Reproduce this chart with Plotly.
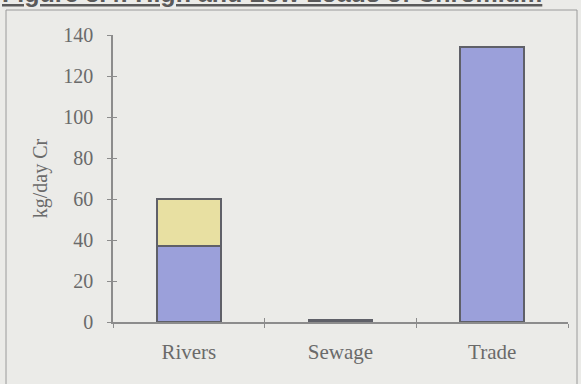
import plotly.graph_objects as go

# Chromium loads by source (kg/day Cr)
sources = ["Rivers", "Sewage", "Trade"]
high_loads = [37, 1, 134]      # lower (blue) segment
extra_loads = [23, 0, 0]       # upper (yellow) segment on top
y_ticks = [0, 20, 40, 60, 80, 100, 120, 140]

BG = "#ebebe8"
TXT = "#6a6a6a"
AXIS = "#8c8c8c"
EDGE = "#5f6068"
SERIF = "Liberation Serif, Times New Roman, serif"

fig = go.Figure()
fig.add_trace(go.Bar(
    x=sources, y=high_loads, name="Low",
    marker=dict(color="#9ba0da", line=dict(color=EDGE, width=2)),
    width=0.42,
))
fig.add_trace(go.Bar(
    x=sources, y=extra_loads, name="High",
    marker=dict(color="#e8e0a2", line=dict(color=EDGE, width=2)),
    width=0.42,
))

# invisible trace on overlay axes to get ticks crossing both sides of the axis lines
fig.add_trace(go.Bar(x=sources, y=[0, 0, 0], xaxis="x2", yaxis="y2",
                     showlegend=False, hoverinfo="skip",
                     marker=dict(color="rgba(0,0,0,0)")))

fig.update_layout(
    width=581, height=384, autosize=False,
    barmode="stack",
    showlegend=False,
    paper_bgcolor=BG, plot_bgcolor=BG,
    margin=dict(l=113, r=13, t=35, b=62),
    font=dict(family=SERIF, color=TXT, size=16),
    xaxis=dict(
        type="category", tickson="boundaries",
        ticks="outside", ticklen=4, tickcolor=AXIS,
        showline=True, linecolor=AXIS, linewidth=1.5,
        showgrid=False, zeroline=False,
        tickfont=dict(family=SERIF, size=21, color=TXT),
        ticklabelstandoff=10,
    ),
    yaxis=dict(
        range=[0, 140], tickvals=y_ticks,
        ticks="outside", ticklen=4, tickcolor=AXIS,
        showline=True, linecolor=AXIS, linewidth=1.5,
        showgrid=False, zeroline=False,
        tickfont=dict(family=SERIF, size=20, color=TXT),
        ticklabelstandoff=10,
        title=dict(text="kg/day Cr", font=dict(family=SERIF, size=20, color=TXT),
                   standoff=10),
    ),
    xaxis2=dict(
        type="category", overlaying="x", tickson="boundaries",
        ticks="inside", ticklen=4, tickcolor=AXIS,
        showticklabels=False, showgrid=False, zeroline=False, showline=False,
        matches="x",
    ),
    yaxis2=dict(
        overlaying="y", range=[0, 140], tickvals=y_ticks,
        ticks="inside", ticklen=4, tickcolor=AXIS,
        showticklabels=False, showgrid=False, zeroline=False, showline=False,
    ),
)

# outer frame around the chart
fig.add_shape(type="rect", xref="paper", yref="paper",
              x0=(6 - 113) / 455, x1=(577 - 113) / 455,
              y0=(322 - 395) / 287, y1=(322 - 10) / 287,
              line=dict(color="#9a9a9a", width=1), layer="below")

# heading, largely above the visible page
fig.add_annotation(
    text="<b><u>Figure 3.4: High and Low Loads of Chromium</u></b>",
    xref="paper", yref="paper",
    x=(0 - 113) / 455, xanchor="left",
    y=(322 - 9) / 287, yanchor="bottom",
    showarrow=False,
    font=dict(family="Liberation Sans, Arial, sans-serif", size=25, color="#5a5a5a"),
)

fig.write_html("out.html")
